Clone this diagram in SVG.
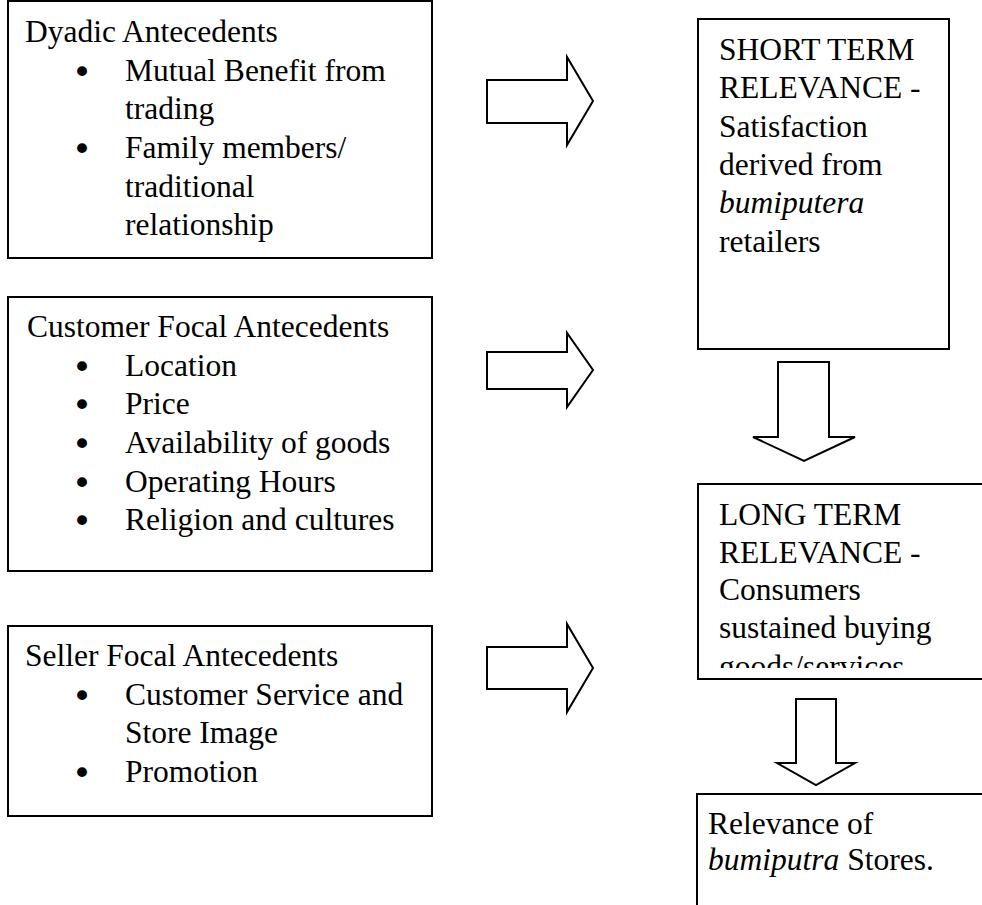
<svg xmlns="http://www.w3.org/2000/svg" width="982" height="905" viewBox="0 0 982 905">
<style>
.box{fill:#fff;stroke:#000;stroke-width:2}
.arr{fill:#fff;stroke:#000;stroke-width:2;stroke-linejoin:miter}
text{font-family:"Liberation Serif","Times New Roman",serif;font-size:31.5px;fill:#000}
.it{font-style:italic}
.b{font-family:"DejaVu Sans",sans-serif;font-size:34px}
</style>
<defs>
<clipPath id="clipLong"><rect x="698" y="484" width="284" height="184"/></clipPath>
</defs>
<rect width="982" height="905" fill="#fff"/>
<g id="dyadic">
<rect class="box" x="8" y="1" width="424" height="257"/>
<text x="25" y="42">Dyadic Antecedents</text>
<text class="b" x="72" y="84">•</text><text x="125" y="81">Mutual Benefit from</text>
<text x="125" y="119">trading</text>
<text class="b" x="72" y="161">•</text><text x="125" y="158">Family members/</text>
<text x="125" y="197">traditional</text>
<text x="125" y="235">relationship</text>
</g>
<g id="customer">
<rect class="box" x="8" y="297" width="424" height="274"/>
<text x="27" y="337">Customer Focal Antecedents</text>
<text class="b" x="72" y="379">•</text><text x="125" y="376">Location</text>
<text class="b" x="72" y="417">•</text><text x="125" y="414">Price</text>
<text class="b" x="72" y="456">•</text><text x="125" y="453">Availability of goods</text>
<text class="b" x="72" y="495">•</text><text x="125" y="492">Operating Hours</text>
<text class="b" x="72" y="533">•</text><text x="125" y="530">Religion and cultures</text>
</g>
<g id="seller">
<rect class="box" x="8" y="626" width="424" height="190"/>
<text x="25" y="666">Seller Focal Antecedents</text>
<text class="b" x="72" y="708">•</text><text x="125" y="705">Customer Service and</text>
<text x="125" y="743">Store Image</text>
<text class="b" x="72" y="785">•</text><text x="125" y="782">Promotion</text>
</g>
<g id="short">
<rect class="box" x="698" y="19" width="251" height="330"/>
<text x="719" y="60">SHORT TERM</text>
<text x="719" y="98">RELEVANCE -</text>
<text x="719" y="137">Satisfaction</text>
<text x="719" y="175">derived from</text>
<text x="719" y="213" class="it">bumiputera</text>
<text x="719" y="252">retailers</text>
</g>
<g id="long">
<rect class="box" x="698" y="484" width="290" height="195"/>
<g clip-path="url(#clipLong)">
<text x="719" y="525">LONG TERM</text>
<text x="719" y="563">RELEVANCE -</text>
<text x="719" y="600">Consumers</text>
<text x="719" y="638">sustained buying</text>
<text x="719" y="677">goods/services</text>
</g>
</g>
<g id="relevance">
<rect class="box" x="697" y="794" width="300" height="130"/>
<text x="708" y="834">Relevance of</text>
<text x="708" y="870"><tspan class="it">bumiputra</tspan> Stores.</text>
</g>
<g id="connectors">
<polygon class="arr" points="487,80 567,80 567,57 593,101 567,145 567,123 487,123"/>
<polygon class="arr" points="487,352 567,352 567,333 593,370 567,407 567,389 487,389"/>
<polygon class="arr" points="487,647 567,647 567,624 593,668 567,712 567,689 487,689"/>
<polygon class="arr" points="778,362 829,362 829,437 855,437 804,461 753,437 778,437"/>
<polygon class="arr" points="796,699 836,699 836,763 855,763 816,785 777,763 796,763"/>
</g>
</svg>
